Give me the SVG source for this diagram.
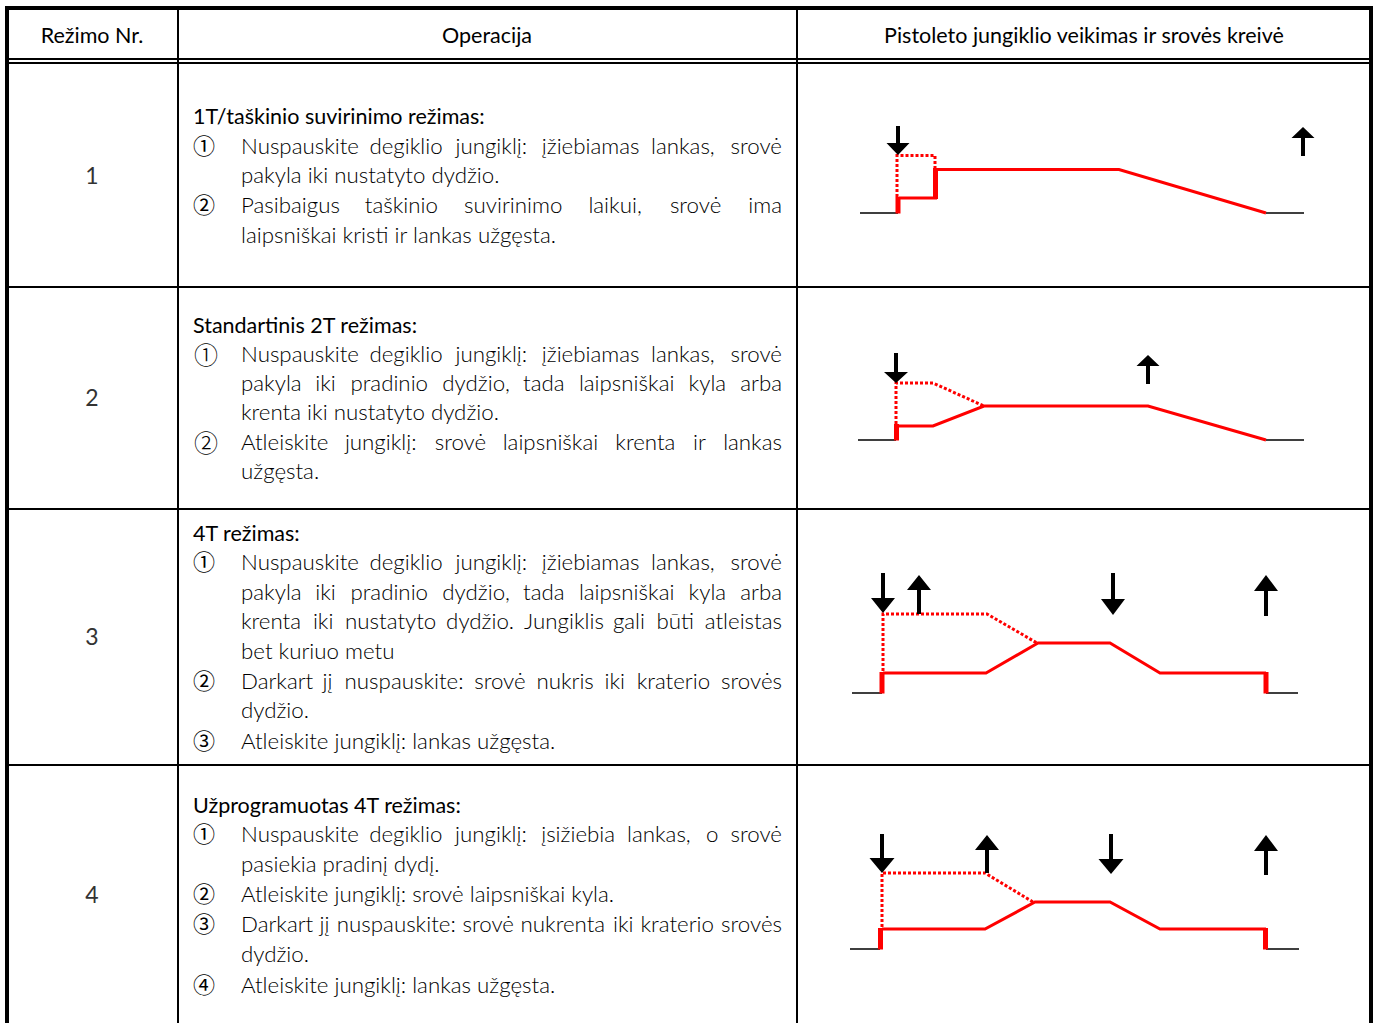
<svg xmlns="http://www.w3.org/2000/svg" width="1375" height="1023" viewBox="0 0 1375 1023">
<style>
.bg{fill:#fff}
.tl{stroke:#000;fill:none}
.h{font-family:Lato,"Liberation Sans",sans-serif;font-size:21.5px;fill:#000}
.b{font-family:Lato,"Liberation Sans",sans-serif;font-size:22.3px;font-weight:300;fill:#000}
.e{text-anchor:end}
.m{text-anchor:middle}
.n{font-family:Lato,"Liberation Sans",sans-serif;font-size:23px;font-weight:400;fill:#333;text-anchor:middle}
.c{font-family:"Noto Sans CJK JP","DejaVu Sans",sans-serif;font-size:22px;fill:#000}
.c2{font-family:"Noto Sans CJK JP","DejaVu Sans",sans-serif;font-size:24px;font-weight:300;fill:#000}
.ax{stroke:#000;stroke-width:1.5;fill:none}
.rs{stroke:#ff0000;stroke-width:3;fill:none;stroke-linejoin:miter}
.rt{stroke:#ff0000;stroke-width:5;fill:none}
.rd{stroke:#ff0000;stroke-width:3;fill:none;stroke-dasharray:3 2}
.ar{fill:#000}
</style>
<rect class="bg" x="0" y="0" width="1375" height="1023"/>

<g id="table">
  <path class="tl" stroke-width="1.8" d="M7 59H1371M7 63H1371"/>
  <path class="tl" stroke-width="2" d="M7 287H1371M7 509H1371M7 765H1371"/>
  <path class="tl" stroke-width="2" d="M178 8V1023M797 8V1023"/>
  <path class="tl" stroke-width="4" d="M7 1023V8H1371V1023"/>
</g>

<g id="header">
  <text class="h m" x="92" y="43">Režimo Nr.</text>
  <text class="h m" x="487" y="43">Operacija</text>
  <text class="h m" x="1084" y="43">Pistoleto jungiklio veikimas ir srovės kreivė</text>
</g>

<g id="mode-numbers">
  <text class="n" x="92" y="184">1</text>
  <text class="n" x="92" y="406">2</text>
  <text class="n" x="92" y="645">3</text>
  <text class="n" x="92" y="903">4</text>
</g>

<g id="row1-text">
  <text class="h" x="193" y="124">1T/taškinio suvirinimo režimas:</text>
  <text class="c" x="193" y="154">①</text>
  <text class="b" y="154"><tspan x="241">Nuspauskite</tspan><tspan x="369.4">degiklio</tspan><tspan x="455.5">jungiklį:</tspan><tspan x="541.8">įžiebiamas</tspan><tspan x="651">lankas,</tspan></text>
  <text class="b e" x="782" y="154">srovė</text>
  <text class="b" x="241" y="183">pakyla iki nustatyto dydžio.</text>
  <text class="c" x="193" y="213">②</text>
  <text class="b" y="213"><tspan x="241">Pasibaigus</tspan><tspan x="364.8">taškinio</tspan><tspan x="464.1">suvirinimo</tspan><tspan x="588.4">laikui,</tspan><tspan x="669.9">srovė</tspan></text>
  <text class="b e" x="782" y="213">ima</text>
  <text class="b" x="241" y="243">laipsniškai kristi ir lankas užgęsta.</text>
</g>

<g id="row2-text">
  <text class="h" x="193" y="333">Standartinis 2T režimas:</text>
  <text class="c2" x="194" y="363.5">①</text>
  <text class="b" y="362"><tspan x="241">Nuspauskite</tspan><tspan x="369.4">degiklio</tspan><tspan x="455.5">jungiklį:</tspan><tspan x="541.8">įžiebiamas</tspan><tspan x="651">lankas,</tspan></text>
  <text class="b e" x="782" y="362">srovė</text>
  <text class="b" y="391"><tspan x="241">pakyla</tspan><tspan x="315.3">iki</tspan><tspan x="350.4">pradinio</tspan><tspan x="442.3">dydžio,</tspan><tspan x="523.1">tada</tspan><tspan x="578.9">laipsniškai</tspan><tspan x="688.6">kyla</tspan></text>
  <text class="b e" x="782" y="391">arba</text>
  <text class="b" x="241" y="420">krenta iki nustatyto dydžio.</text>
  <text class="c2" x="194" y="451.5">②</text>
  <text class="b" y="450"><tspan x="241">Atleiskite</tspan><tspan x="344.9">jungiklį:</tspan><tspan x="434.7">srovė</tspan><tspan x="502.7">laipsniškai</tspan><tspan x="615.3">krenta</tspan><tspan x="693">ir</tspan></text>
  <text class="b e" x="782" y="450">lankas</text>
  <text class="b" x="241" y="479">užgęsta.</text>
</g>

<g id="row3-text">
  <text class="h" x="193" y="541">4T režimas:</text>
  <text class="c" x="193" y="570">①</text>
  <text class="b" y="570"><tspan x="241">Nuspauskite</tspan><tspan x="369.4">degiklio</tspan><tspan x="455.5">jungiklį:</tspan><tspan x="541.8">įžiebiamas</tspan><tspan x="651">lankas,</tspan></text>
  <text class="b e" x="782" y="570">srovė</text>
  <text class="b" y="600"><tspan x="241">pakyla</tspan><tspan x="315.3">iki</tspan><tspan x="350.4">pradinio</tspan><tspan x="442.3">dydžio,</tspan><tspan x="523.1">tada</tspan><tspan x="578.9">laipsniškai</tspan><tspan x="688.6">kyla</tspan></text>
  <text class="b e" x="782" y="600">arba</text>
  <text class="b" y="629"><tspan x="241">krenta</tspan><tspan x="312.9">iki</tspan><tspan x="345.1">nustatyto</tspan><tspan x="446.1">dydžio.</tspan><tspan x="524.1">Jungiklis</tspan><tspan x="612.9">gali</tspan><tspan x="656.5">būti</tspan></text>
  <text class="b e" x="782" y="629">atleistas</text>
  <text class="b" x="241" y="659">bet kuriuo metu</text>
  <text class="c" x="193" y="689">②</text>
  <text class="b" y="689"><tspan x="241">Darkart</tspan><tspan x="322.6">jį</tspan><tspan x="344.6">nuspauskite:</tspan><tspan x="474.2">srovė</tspan><tspan x="536.4">nukris</tspan><tspan x="604.5">iki</tspan><tspan x="636.7">kraterio</tspan></text>
  <text class="b e" x="782" y="689">srovės</text>
  <text class="b" x="241" y="718">dydžio.</text>
  <text class="c" x="193" y="749">③</text>
  <text class="b" x="241" y="749">Atleiskite jungiklį: lankas užgęsta.</text>
</g>

<g id="row4-text">
  <text class="h" x="193" y="813">Užprogramuotas 4T režimas:</text>
  <text class="c" x="193" y="842">①</text>
  <text class="b" y="842"><tspan x="241">Nuspauskite</tspan><tspan x="369.2">degiklio</tspan><tspan x="455.1">jungiklį:</tspan><tspan x="541.2">įsižiebia</tspan><tspan x="627">lankas,</tspan><tspan x="705.9">o</tspan></text>
  <text class="b e" x="782" y="842">srovė</text>
  <text class="b" x="241" y="872">pasiekia pradinį dydį.</text>
  <text class="c" x="193" y="902">②</text>
  <text class="b" x="241" y="902">Atleiskite jungiklį: srovė laipsniškai kyla.</text>
  <text class="c" x="193" y="932">③</text>
  <text class="b" y="932"><tspan x="241">Darkart</tspan><tspan x="319.5">jį</tspan><tspan x="336.8">nuspauskite:</tspan><tspan x="462.5">srovė</tspan><tspan x="520.5">nukrenta</tspan><tspan x="613">iki</tspan><tspan x="640.5">kraterio</tspan></text>
  <text class="b e" x="782" y="932">srovės</text>
  <text class="b" x="241" y="962">dydžio.</text>
  <text class="c" x="193" y="993">④</text>
  <text class="b" x="241" y="993">Atleiskite jungiklį: lankas užgęsta.</text>
</g>

<g id="graph1">
  <path class="ax" d="M860 213H898M1266 213H1304"/>
  <path class="rd" d="M897 197V155.5H935V168"/>
  <path class="rt" d="M898 213.5V197M935.5 199V168"/>
  <path class="rs" d="M899 198H937M937 169.5H1119L1266 213"/>
  <polygon class="ar" points="896,126 900,126 900,143 909.5,143 898,155 886.5,143 896,143"/>
  <polygon class="ar" points="1301,156 1305,156 1305,138 1314.5,138 1303,127 1291.5,138 1301,138"/>
</g>

<g id="graph2">
  <path class="ax" d="M858 440H896M1266 440H1304"/>
  <path class="rd" d="M896 424V383H933L984 406"/>
  <path class="rt" d="M896.5 440.5V424"/>
  <path class="rs" d="M898 426H933L984 406H1148L1266 440"/>
  <polygon class="ar" points="894,353 898,353 898,372 908,372 896,383 884,372 894,372"/>
  <polygon class="ar" points="1146,384 1150,384 1150,366 1159.5,366 1148,355 1136.5,366 1146,366"/>
</g>

<g id="graph3">
  <path class="ax" d="M852 693H882M1266 693H1298"/>
  <path class="rd" d="M883 671V614H987L1037 643"/>
  <path class="rt" d="M882 693.5V672M1266 672V693.5"/>
  <path class="rs" d="M883 673H986L1038 643H1110L1160 673H1266"/>
  <polygon class="ar" points="881,573 885,573 885,598 895,598 883,613 871,598 881,598"/>
  <polygon class="ar" points="917,614 921,614 921,590 931,590 919,575 907,590 917,590"/>
  <polygon class="ar" points="1111,573 1115,573 1115,599 1125,599 1113,615 1101,599 1111,599"/>
  <polygon class="ar" points="1264,616 1268,616 1268,591 1278,591 1266,575 1254,591 1264,591"/>
</g>

<g id="graph4">
  <path class="ax" d="M850 949H880M1266 949H1299"/>
  <path class="rd" d="M882 927V873H985L1033 902"/>
  <path class="rt" d="M880.5 949.5V928M1265.5 928V949.5"/>
  <path class="rs" d="M882 929H985L1035 902H1110L1160 929H1266"/>
  <polygon class="ar" points="880,834 884,834 884,858 894.5,858 882,873 869.5,858 880,858"/>
  <polygon class="ar" points="985,873 989,873 989,850 999,850 987,835 975,850 985,850"/>
  <polygon class="ar" points="1109,834 1113,834 1113,859 1123.5,859 1111,874 1098.5,859 1109,859"/>
  <polygon class="ar" points="1264,875 1268,875 1268,851 1278,851 1266,835 1254,851 1264,851"/>
</g>
</svg>
